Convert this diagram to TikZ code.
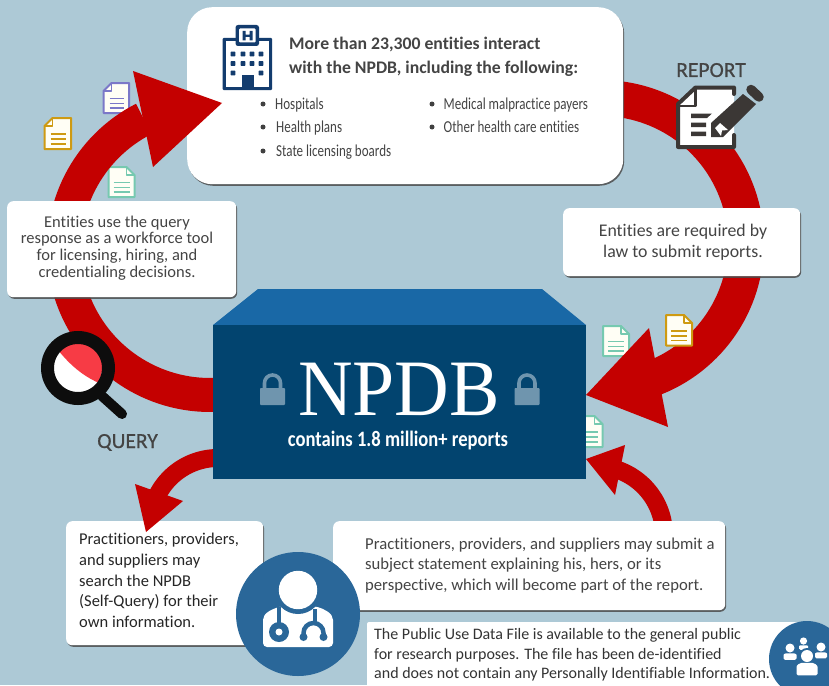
\documentclass[tikz,border=0pt]{standalone}
\usepackage{fontspec}
\setmainfont[Ligatures=NoCommon]{Carlito}
\newfontfamily\condf[FakeStretch=0.78,Ligatures=NoCommon]{Carlito}
\newfontfamily\condbf[FakeStretch=0.845,Ligatures=NoCommon]{Carlito Bold}
\newfontfamily\labf[FakeBold=0.5,Ligatures=NoCommon]{Carlito}
\newfontfamily\npdbf[FakeStretch=0.945]{Liberation Serif}
\usetikzlibrary{shadows}
\definecolor{bgc}{HTML}{ADC9D6}
\definecolor{redc}{HTML}{C40000}
\definecolor{frontc}{HTML}{02446F}
\definecolor{topc}{HTML}{1968A6}
\definecolor{circc}{HTML}{2A6799}
\definecolor{lockc}{HTML}{6F95AE}
\definecolor{navyc}{HTML}{133C6E}
\definecolor{inkc}{HTML}{3B3735}
\definecolor{textc}{HTML}{444444}
\definecolor{mintc}{HTML}{76C9B0}
\definecolor{goldc}{HTML}{CE9A12}
\definecolor{violc}{HTML}{7B78C8}
\definecolor{magc}{HTML}{F73B45}
\newcommand\band[7]{\fill[#7] plot[domain=#5:#6,samples=70] ({#1+#3*cos(\x)},{#2-#3*sin(\x)}) -- plot[domain=#6:#5,samples=70] ({#1+#4*cos(\x)},{#2-#4*sin(\x)}) -- cycle;}
% doc icon: x1 y1 x2 y2 colour; fold on right
\newcommand\docR[5]{%
 \draw[#5,line width=2pt,fill=white!96!yellow,line join=round] (#1,#2) -- ({#3-8},#2) -- (#3,{#2+8}) -- (#3,#4) -- (#1,#4) -- cycle;
 \draw[#5,line width=1.5pt,line join=round] ({#3-8},#2) -- ({#3-8},{#2+8}) -- (#3,{#2+8});
 \foreach \k in {0.52,0.68,0.84}{\draw[#5,line width=1.7pt] ({#1+5},{#2+\k*(#4-#2)}) -- ({#3-5},{#2+\k*(#4-#2)});}
}
\newcommand\docL[5]{%
 \draw[#5,line width=2pt,fill=white!96!yellow,line join=round] ({#1+8},#2) -- (#3,#2) -- (#3,#4) -- (#1,#4) -- (#1,{#2+8}) -- cycle;
 \draw[#5,line width=1.5pt,line join=round] ({#1+8},#2) -- ({#1+8},{#2+8}) -- (#1,{#2+8});
 \foreach \k in {0.52,0.68,0.84}{\draw[#5,line width=1.7pt] ({#1+6},{#2+\k*(#4-#2)}) -- ({#3-5},{#2+\k*(#4-#2)});}
}
\newcommand\lock[2]{% left x, top y
 \draw[lockc,line width=3.6pt] ({#1+4.5},{#2+15}) -- ({#1+4.5},{#2+9}) arc[start angle=180,end angle=0,radius=8pt] -- ({#1+20.5},{#2+15});
 \fill[lockc,rounded corners=0.8pt] (#1,{#2+14}) rectangle ({#1+25},{#2+31});
}
\newcommand\person[5]{% head x, head y, head r, body half width, body height
 \fill[white] (#1,#2) circle[radius=#3*1pt];
 \fill[white,rounded corners=1.5pt] ({#1-#4},{#2+#3+0.8+#5}) -- ({#1-#4},{#2+#3+0.8+0.45*#5}) to[out=90,in=180] ({#1-0.35*#4},{#2+#3+0.8}) -- ({#1+0.35*#4},{#2+#3+0.8}) to[out=0,in=90] ({#1+#4},{#2+#3+0.8+0.45*#5}) -- ({#1+#4},{#2+#3+0.8+#5}) -- cycle;
}
\tikzset{
 wbox/.style={fill=white,draw=none,rounded corners=6pt,anchor=north west,inner sep=0pt,
   drop shadow={shadow xshift=1pt,shadow yshift=-1.6pt,fill=black!70,opacity=0.85}},
 para/.style={inner sep=0pt,text=textc,font=\fontsize{16.5}{20.6}\selectfont},
 item/.style={inner sep=0pt,anchor=base west,text=textc,font=\condf\fontsize{16.7}{19}\selectfont},
 dot/.style={fill=black!75},
 labeltext/.style={inner sep=0pt,anchor=base,text=textc,font=\labf\fontsize{21.5}{23}\selectfont},
 headtext/.style={inner sep=0pt,anchor=base west,text=textc,font=\bfseries\fontsize{17.7}{24}\selectfont},
}
\begin{document}
\begin{tikzpicture}[x=1pt,y=-1pt]
\useasboundingbox (0,0) rectangle (829,685);
\clip (0,0) rectangle (829,685);
\fill[bgc] (0,0) rectangle (829,685);
% documents behind the arrows
\docL{103.5}{83}{129}{113}{violc}
\docL{44.5}{118}{71}{149}{goldc}
\docR{108.5}{167}{134.5}{197}{mintc}
\docR{603}{326}{629}{356}{mintc}
\docR{577}{416}{602.5}{447}{mintc}
% right arrow
\band{601}{243}{163}{127}{88}{-70}{redc}
\fill[redc] (586,395) -- (649,328) -- (668,427) -- cycle;
\docR{666}{315}{692}{345.5}{goldc}
% lower right arrow
\band{595}{535}{78}{60}{5}{72}{redc}
\fill[redc] (586,459) -- (625,445) -- (615,495) -- cycle;
% top box
\node[wbox,rounded corners=25pt,minimum width=436pt,minimum height=177pt] (topbox) at (187,7) {};
% left arrow
\band{210}{249}{163}{129}{117}{272}{redc}
\fill[redc] (222,103) -- (133,71) -- (153,167) -- cycle;
% self-query box and lower left arrow over it
\node[wbox,minimum width=197pt,minimum height=124pt] (selfbox) at (66,521) {};
\band{218}{526}{77}{59}{86}{153}{redc}
\fill[redc] (146,532) -- (135,484) -- (183,501) -- cycle;
% NPDB solid
\fill[topc] (258,289) -- (542,289) -- (586,325) -- (213,325) -- cycle;
\fill[frontc] (213,325) rectangle (586,479);
\lock{260}{374}
\lock{514.5}{374}
\node[inner sep=0pt,anchor=base,text=white,font=\npdbf\fontsize{80}{80}\selectfont] (npdb) at (399,415) {NPDB};
\node[inner sep=0pt,anchor=base,text=white,font=\condbf\fontsize{22}{24}\selectfont] (contains) at (398,446) {contains 1.8 million+ reports};
% white boxes
\node[wbox,minimum width=229pt,minimum height=96pt] (qbox) at (7,201) {};
\node[wbox,minimum width=237pt,minimum height=68pt] (rbox) at (563,208) {};
\node[wbox,minimum width=392pt,minimum height=89pt] (subbox) at (333,521) {};
\fill[white,rounded corners=2pt] (367,622) rectangle (815,700);
% texts in boxes
\node[para,align=center,font=\fontsize{16.5}{16.7}\selectfont] (qtext) at (117,248) {Entities use the query\\response as a workforce tool\\for licensing, hiring, and\\credentialing decisions.};
\node[para,align=center,font=\fontsize{17.8}{20.6}\selectfont] (rtext) at (683,242.3) {Entities are required by\\law to submit reports.};
\node[para,align=left,anchor=west,text=black!85] (selftext) at (79,580.5) {Practitioners, providers,\\and suppliers may\\search the NPDB\\(Self-Query) for their\\own information.};
\node[para,align=left,anchor=west,font=\fontsize{16.65}{20.6}\selectfont] (subtext) at (365,565.5) {Practitioners, providers, and suppliers may submit a\\subject statement explaining his, hers, or its\\perspective, which will become part of the report.};
\node[para,align=left,anchor=west,text=black!80,font=\fontsize{16}{19.7}\selectfont] (pubtext) at (374,655) {The Public Use Data File is available to the general public\\for research purposes. The file has been de-identified\\and does not contain any Personally Identifiable Information.};
% header
\node[headtext] (h1) at (289,50) {More than 23,300 entities interact};
\node[headtext] (h2) at (289,74) {with the NPDB, including the following:};
\foreach \bx/\by in {263/104,263/127,263/151,432/104,432/127}{\fill[dot] (\bx,\by) circle[radius=2.5pt];}
\node[item] (i1) at (275,109) {Hospitals};
\node[item] (i2) at (276,132) {Health plans};
\node[item] (i3) at (276,156) {State licensing boards};
\node[item] (i4) at (443.5,109) {Medical malpractice payers};
\node[item] (i5) at (443.5,132.5) {Other health care entities};
% labels
\node[labeltext] (report) at (711,77) {REPORT};
\node[labeltext] (query) at (127.5,448) {QUERY};
% hospital icon
\fill[navyc,rounded corners=1pt] (222.5,38) rectangle (272,90);
\fill[white] (226,41.5) rectangle (268.5,86.5);
\fill[navyc,rounded corners=2.5pt] (235.5,25) rectangle (259,46);
\fill[white,rounded corners=1pt] (239,28.5) rectangle (255.5,42.5);
\fill[navyc] (242.5,31) rectangle (245.5,40.5) (249.5,31) rectangle (252.5,40.5) (242.5,34.6) rectangle (252.5,37);
\foreach \hx in {233,243,252,261}{\foreach \hy in {54,63.5}{\fill[navyc,rounded corners=.6pt] ({\hx-2.4},{\hy-2.4}) rectangle ({\hx+2.4},{\hy+2.4});}}
\foreach \hx in {233,261}{\fill[navyc,rounded corners=.6pt] ({\hx-2.4},70.6) rectangle ({\hx+2.4},75.4);}
\fill[navyc] (241.5,75) rectangle (254,88);
% report icon
\fill[white] (695.5,87) -- (734,87) -- (734,147) -- (678,147) -- (678,104) -- cycle;
\draw[inkc,line width=4pt,line join=round,line cap=round] (734,94) -- (734,87.5) -- (695.5,87.5) -- (678,104) -- (678,147) -- (734,147) -- (734,135);
\draw[inkc,line width=2.5pt,line join=round] (695.5,88) -- (695.5,106) -- (678,106);
\fill[inkc] (691,113.5) -- (712,113.5) -- (707,118) -- (691,118) -- cycle;
\fill[inkc] (691,122.5) rectangle (706,127) (691,131.5) rectangle (706,136);
\fill[inkc] (711,123) -- (743,94) -- (756,104) -- (723,137) -- (711,137) -- cycle;
\fill[white] (715,128) -- (720,123) -- (728,130) -- (722,130.5) -- (721,136) -- cycle;
\draw[inkc,line width=9.5pt,line cap=round] (751,89.5) -- (759,97);
% magnifier
\draw[black!95,line width=10pt,line cap=round] (102,396) -- (122,414);
\fill[white] (78,368) circle[radius=25pt];
\begin{scope}
\clip (78,368) circle[radius=25pt];
\fill[magc] (58,350) .. controls (70,365) and (83,376) .. (99,383) -- (110,340) -- (70,335) -- cycle;
\end{scope}
\draw[black!95,line width=13pt] (78,368) circle[radius=30.5pt];
% doctor
\fill[circc] (298,614) circle[radius=62pt];
\fill[white,rounded corners=4pt] (263,647) -- (263,624) .. controls (263,613) and (272,609) .. (283,606) -- (314,606) .. controls (324,609) and (333,613) .. (333,624) -- (333,647) -- cycle;
\fill[circc] (298,590) circle[radius=24pt];
\fill[white] (298,590) circle[radius=19.2pt];
\draw[circc,line width=4.5pt] (279,607) -- (279,626);
\draw[circc,line width=4.5pt] (315,609) -- (315,622);
\fill[circc] (279,632) circle[radius=10pt];
\fill[white] (279,632) circle[radius=3.5pt];
\draw[circc,line width=4.5pt] (303.5,637) -- (303.5,633) arc[start angle=180,end angle=0,radius=10pt] -- (323.5,637);
\fill[circc] (303.5,637) circle[radius=4pt] (323.5,637) circle[radius=4pt];
% people
\fill[circc] (807,659) circle[radius=38pt];
\person{803.5}{641}{3.6}{4.5}{4.5}
\person{790}{648}{4.5}{6.5}{6.5}
\person{821}{647}{4.5}{6}{6}
\fill[circc] (807,656) circle[radius=8pt];
\fill[circc,rounded corners=3pt] (795,660) rectangle (820,676);
\person{807}{656}{6}{10.5}{12.5}
\end{tikzpicture}
\end{document}
